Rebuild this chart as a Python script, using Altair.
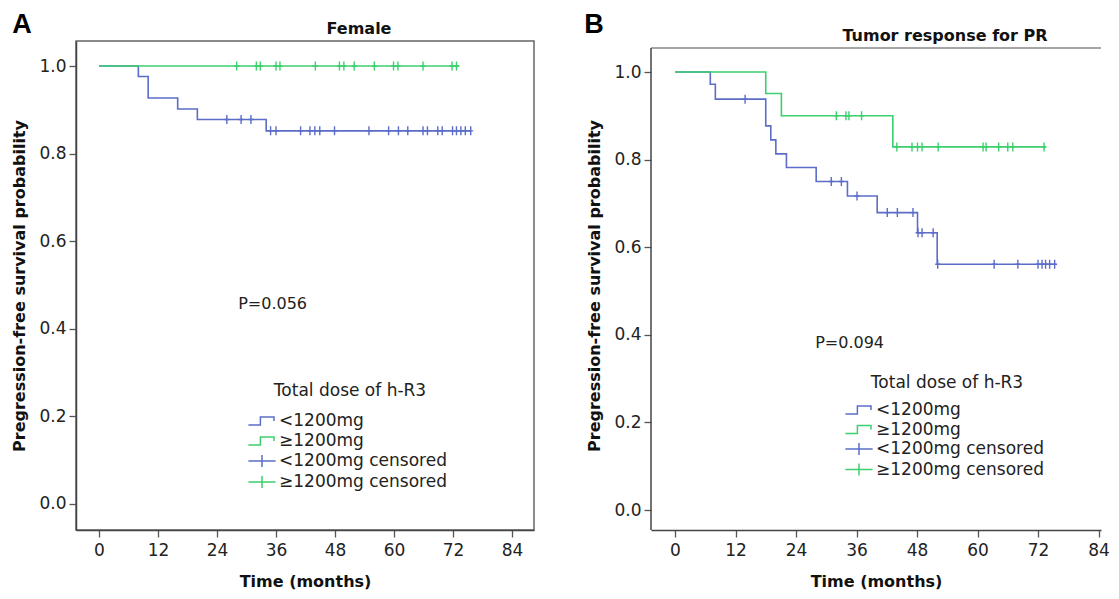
import altair as alt
import pandas as pd

FONT = "DejaVu Sans"
BLUE = "#5b6dc8"
GREEN = "#3ccf6e"

groups = ["<1200mg", "≥1200mg", "<1200mg censored", "≥1200mg censored"]
x_ticks = [0, 12, 24, 36, 48, 60, 72, 84]
y_ticks = [0.0, 0.2, 0.4, 0.6, 0.8, 1.0]

# ---- Panel A: Female ----
a_low_event_t = [8, 10, 16, 20, 34]
a_low_event_s = [0.976, 0.927, 0.902, 0.878, 0.852]
a_low_end = 75.6
a_low_cens = [26.0, 28.9, 30.9, 34.9, 36.0, 41.0, 42.9, 43.9, 44.9, 47.9, 54.9,
              58.9, 60.9, 62.8, 65.9, 66.8, 68.9, 69.8, 71.9, 72.7, 73.6, 74.5, 75.6]
a_high_event_t = []
a_high_event_s = []
a_high_end = 73.3
a_high_cens = [28.0, 32.0, 32.8, 36.0, 36.8, 44.0, 48.9, 49.8, 51.9, 56.0, 59.9,
               60.8, 65.9, 71.8, 72.7]
a_p_text = ["P=0.056"]
a_p_x = [28.3]
a_p_y = [0.457]

# ---- Panel B: Tumor response for PR ----
b_low_event_t = [7, 8, 18, 19, 20, 22.1, 28, 34.2, 40.1, 48.1, 52.0]
b_low_event_s = [0.972, 0.938, 0.877, 0.845, 0.813, 0.782, 0.750, 0.717, 0.679, 0.633, 0.561]
b_low_end = 75.6
b_low_cens = [13.9, 31.0, 33.0, 36.1, 42.1, 44.1, 47.2, 48.2, 49.0, 51.2, 52.1,
              63.3, 68.0, 72.0, 72.8, 73.5, 74.3, 75.3]
b_high_event_t = [18, 21.1, 43.2]
b_high_event_s = [0.951, 0.900, 0.829]
b_high_end = 73.6
b_high_cens = [32.0, 33.9, 34.5, 37.0, 44.0, 47.0, 48.1, 49.0, 52.2, 61.1, 61.7,
               64.2, 66.0, 67.0, 73.2]
b_p_text = ["P=0.094"]
b_p_x = [27.8]
b_p_y = [0.381]


def step_rows(ev_t, ev_s, end, grp):
    rows = [{"t": 0.0, "s": 1.0, "grp": grp}]
    last = 1.0
    for t, s in zip(ev_t, ev_s):
        rows.append({"t": t, "s": s, "grp": grp})
        last = s
    rows.append({"t": end, "s": last, "grp": grp})
    return rows


def surv_at(t, ev_t, ev_s):
    s = 1.0
    for et, es in zip(ev_t, ev_s):
        if et <= t:
            s = es
    return s


def cens_rows(cens, ev_t, ev_s, grp):
    return [{"t": c, "s": surv_at(c, ev_t, ev_s), "grp": grp} for c in cens]


cscale = alt.Scale(domain=groups, range=[BLUE, GREEN, BLUE, GREEN])
STEP_PATH = "M-1.7,0.5H-0.2V-0.5H1.5V0"
PLUS_LEG = "M-1.7,0H1.7M0,-0.75V0.75"
PLUS_PLOT = "M-0.55,0H0.55M0,-1V1"
sscale = alt.Scale(domain=groups, range=[STEP_PATH, STEP_PATH, PLUS_LEG, PLUS_LEG])

W_A, W_B, H = 458, 450, 489


def panel(low, high, cens_low, cens_high, p_text, p_x, p_y, xdom, ydom, w, h,
          title, title_x, title_y, letter, letter_x, letter_y,
          leg_x, leg_y, leg_title_pad, leg_row_pad, framed, frame_top):
    lines = pd.DataFrame(step_rows(*low, "<1200mg") + step_rows(*high, "≥1200mg"))
    cens = pd.DataFrame(cens_rows(*cens_low, "<1200mg censored") +
                        cens_rows(*cens_high, "≥1200mg censored"))
    xs = alt.Scale(domain=xdom, nice=False, zero=False)
    ys = alt.Scale(domain=ydom, nice=False, zero=False)
    xaxis = alt.Axis(values=x_ticks, title="Time (months)", grid=False,
                     titleFont=FONT, titleFontSize=16, titleFontWeight="bold", titleColor="#111",
                     titlePadding=15, labelFont=FONT, labelFontSize=17, labelColor="#222",
                     labelPadding=5, tickSize=7, tickColor="#555", tickWidth=1.3,
                     domainColor="#444", domainWidth=1.5, labelFlush=False)
    yaxis = alt.Axis(values=y_ticks, format=".1f", title="Pregression-free survival probability",
                     grid=False, titleFont=FONT, titleFontSize=16, titleFontWeight="bold",
                     titleColor="#111", titlePadding=11, labelFont=FONT, labelFontSize=17,
                     labelColor="#222", labelPadding=3, tickSize=7, tickColor="#555",
                     tickWidth=1.3, domain=framed, domainColor="#444", domainWidth=1.5)
    leg = alt.Legend(title="Total dose of h-R3", orient="none", legendX=leg_x, legendY=leg_y,
                     titleFont=FONT, titleFontSize=17, titleFontWeight="normal",
                     titleColor="#222", titleAnchor="middle", titlePadding=leg_title_pad,
                     labelFont=FONT, labelFontSize=17, labelColor="#222", labelOffset=8,
                     labelLimit=400, symbolSize=256, symbolStrokeWidth=1.5, symbolOpacity=1,
                     rowPadding=leg_row_pad, padding=0)
    X = alt.X("t:Q", scale=xs, axis=xaxis, title="Time (months)")
    Y = alt.Y("s:Q", scale=ys, axis=yaxis, title="Pregression-free survival probability")
    C = alt.Color("grp:N", scale=cscale, legend=leg, title="Total dose of h-R3")

    line_layer = alt.Chart(lines).mark_line(interpolate="step-after", strokeWidth=1.6).encode(
        x=X, y=Y, color=C)
    cens_layer = alt.Chart(cens).mark_point(shape=PLUS_PLOT, size=81, filled=False,
                                            strokeWidth=1.4, opacity=1).encode(
        x=X, y=Y, color=C)
    leg_layer = alt.Chart(pd.DataFrame({"grp": groups, "t": [0.0] * 4, "s": [1.0] * 4})).mark_point(
        opacity=0, filled=False, size=0).encode(
        x=X, y=Y, color=C,
        shape=alt.Shape("grp:N", scale=sscale, legend=leg, title="Total dose of h-R3"),
    )
    p_layer = alt.Chart(pd.DataFrame({"p": p_text, "t": p_x, "s": p_y})).mark_text(
        font=FONT, fontSize=16, align="left", baseline="middle", color="#222").encode(
        x=X, y=Y, text="p:N")
    letter_layer = alt.Chart(pd.DataFrame({"l": [letter]})).mark_text(
        font="Liberation Sans", fontSize=27, fontWeight="bold", align="center",
        baseline="middle", color="#000").encode(
        x=alt.value(letter_x), y=alt.value(letter_y), text="l:N")
    title_layer = alt.Chart(pd.DataFrame({"l": [title]})).mark_text(
        font=FONT, fontSize=16, fontWeight="bold", align="center",
        baseline="middle", color="#111").encode(
        x=alt.value(title_x), y=alt.value(title_y), text="l:N")
    layers = [line_layer, cens_layer, p_layer, leg_layer, letter_layer, title_layer]
    if framed:
        view = alt.ViewBackground(stroke="#666", strokeWidth=1.5)
    else:
        view = alt.ViewBackground(stroke="transparent")
        frame_df = pd.DataFrame({"l": [letter]})
        top_line = alt.Chart(frame_df).mark_rule(color="#888", strokeWidth=1.5).encode(
            x=alt.value(0), x2=alt.value(w), y=alt.value(frame_top))
        left_line = alt.Chart(frame_df).mark_rule(color="#444", strokeWidth=1.5).encode(
            x=alt.value(0), y=alt.value(frame_top), y2=alt.value(h))
        layers += [top_line, left_line]

    return alt.layer(*layers).properties(width=w, height=h, view=view)


chart_a = panel((a_low_event_t, a_low_event_s, a_low_end),
                (a_high_event_t, a_high_event_s, a_high_end),
                (a_low_cens, a_low_event_t, a_low_event_s),
                (a_high_cens, a_high_event_t, a_high_event_s),
                a_p_text, a_p_x, a_p_y,
                [-4.68, 88.47], [-0.0594, 1.0571], W_A, H,
                "Female", 283, -12, "A", -54, -16, 177, 342, 12, 3, True, 0)

chart_b = panel((b_low_event_t, b_low_event_s, b_low_end),
                (b_high_event_t, b_high_event_s, b_high_end),
                (b_low_cens, b_low_event_t, b_low_event_s),
                (b_high_cens, b_high_event_t, b_high_event_s),
                b_p_text, b_p_x, b_p_y,
                [-4.76, 84.49], [-0.0456, 1.0708], W_B, H,
                "Tumor response for PR", 294, -5, "B", -57, -16, 199, 334, 9, 2.5, False, 7)

chart = alt.hconcat(chart_a, chart_b, spacing=48).resolve_scale(
    color="independent", shape="independent", x="independent", y="independent"
).properties(padding={"left": 3, "top": 2, "right": 0, "bottom": 0}).configure(
    background="white"
)

chart.save("out.html", embed_options={"renderer": "svg", "actions": False})
